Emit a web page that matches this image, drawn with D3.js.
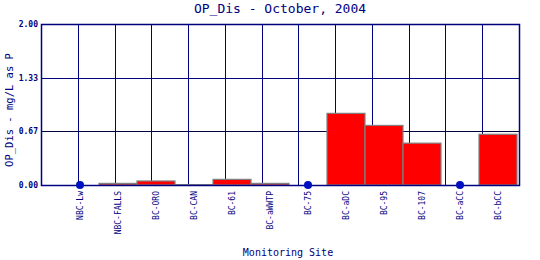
<!DOCTYPE html>
<html>
<head>
<meta charset="utf-8">
<script src="https://cdn.jsdelivr.net/npm/d3@7"></script>
<style>
body{margin:0;background:#fff;}
text{font-family:"DejaVu Sans Mono",monospace;fill:#000080;}
</style>
</head>
<body>
<div id="chart"></div>
<script>
var sites = ["NBC-Lw","NBC-FALLS","BC-ORO","BC-CAN","BC-61","BC-aWWTP","BC-75","BC-aDC","BC-95","BC-107","BC-aCC","BC-bCC"];
// null = no sample, drawn as a dot on the zero line
var opDis = [null,0.02,0.05,0.005,0.07,0.02,null,0.89,0.74,0.52,null,0.63];
var yTicks = [0,2/3,4/3,2];
var yTickLabels = ["0.00","0.67","1.33","2.00"];

var W = 540, H = 260;
var pLeft = 41, pRight = 519, pTop = 24, pBottom = 185;
var navy = "#000080";

var svg = d3.select("#chart").append("svg").attr("width",W).attr("height",H);

var x = d3.scaleBand().domain(sites).range([61,517]).padding(0);
var grid = d3.scaleLinear().domain([0,13]).range([pLeft,pRight]);
var y = d3.scaleLinear().domain([0,2]).range([pBottom,pTop]);

// grid
svg.append("g").selectAll("line.v")
	.data(d3.range(1,13)).enter().append("line")
	.attr("x1",function(d){return Math.round(grid(d))+0.5;}).attr("x2",function(d){return Math.round(grid(d))+0.5;})
	.attr("y1",pTop).attr("y2",pBottom)
	.attr("stroke",navy).attr("stroke-width",1);
svg.append("g").selectAll("line.h")
	.data(yTicks.slice(1,3)).enter().append("line")
	.attr("x1",pLeft).attr("x2",pRight)
	.attr("y1",function(d){return Math.round(y(d))+0.5;}).attr("y2",function(d){return Math.round(y(d))+0.5;})
	.attr("stroke",function(d,i){return i==0?"#000040":navy;}).attr("stroke-width",1);

// bars
var barData = sites.map(function(s,i){return {site:s,v:opDis[i]};});
svg.append("g").selectAll("rect")
	.data(barData.filter(function(d){return d.v!==null;})).enter().append("rect")
	.attr("x",function(d){return x(d.site);})
	.attr("width",x.bandwidth())
	.attr("y",function(d){return y(d.v);})
	.attr("height",function(d){return pBottom-y(d.v);})
	.attr("fill","#ff0000").attr("stroke","#808080").attr("stroke-width",1.2);

// frame
svg.append("rect").attr("x",pLeft+0.5).attr("y",pTop+0.5)
	.attr("width",pRight-pLeft).attr("height",pBottom-pTop)
	.attr("fill","none").attr("stroke",navy).attr("stroke-width",1.5);

// missing samples
svg.append("g").selectAll("circle")
	.data(barData.filter(function(d){return d.v===null;})).enter().append("circle")
	.attr("cx",function(d){return x(d.site)+x.bandwidth()/2;})
	.attr("cy",pBottom)
	.attr("r",4).attr("fill","#0010c0");

// y tick labels
svg.append("g").selectAll("text")
	.data(yTicks).enter().append("text")
	.attr("x",pLeft-3).attr("y",function(d){return y(d)+3;})
	.attr("text-anchor","end").attr("font-size","8px").attr("font-weight","bold")
	.text(function(d,i){return yTickLabels[i];});

// x tick labels
svg.append("g").selectAll("text")
	.data(sites).enter().append("text")
	.attr("transform",function(d){return "translate("+(x(d)+x.bandwidth()/2+3)+",191) rotate(-90)";})
	.attr("text-anchor","end").attr("font-size","8px")
	.text(function(d){return d;});

svg.append("text").attr("x",280).attr("y",13).attr("text-anchor","middle")
	.attr("font-size","13px").text("OP_Dis - October, 2004");
svg.append("text").attr("x",288).attr("y",256).attr("text-anchor","middle")
	.attr("font-size","10px").text("Monitoring Site");
svg.append("text").attr("transform","translate(13,110) rotate(-90)").attr("text-anchor","middle")
	.attr("font-size","10.5px").text("OP_Dis - mg/L as P");
</script>
</body>
</html>
